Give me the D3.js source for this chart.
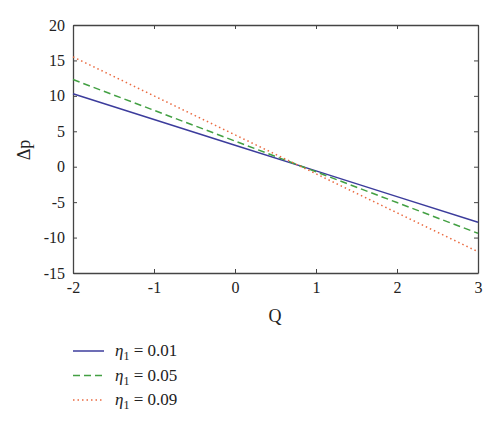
<!DOCTYPE html>
<meta charset="utf-8">
<html>
  <head>
    <style>
      body { margin: 0; background: #fff; }
      text { font-family: "Liberation Serif", "DejaVu Serif", serif; fill: #222; }
      .axis path, .axis line { stroke: #444; }
    </style>
    <script src="https://d3js.org/d3.v7.min.js"></script>
  </head>
  <body>
    <script>
      var width = 500, height = 428;

      // data
      var qValues = [-2, -1, 0, 1, 2, 3];
      var dp001 = [10.3, 6.67, 3.04, -0.59, -4.22, -7.85];
      var dp005 = [12.3, 7.96, 3.62, -0.72, -5.06, -9.4];
      var dp009 = [15.5, 10.0, 4.5, -1.0, -6.5, -12.0];
      var seriesLabels = ["0.01", "0.05", "0.09"];
      var xTicks = [-2, -1, 0, 1, 2, 3];
      var yTicks = [-15, -10, -5, 0, 5, 10, 15, 20];

      var colors = ["#3c3c9c", "#43a043", "#ea6a40"];
      var dashes = [null, "7,4", "1.5,3"];

      var mLeft = 73, mRight = 478, mTop = 25, mBottom = 273;
      var serif = "'Liberation Serif', 'DejaVu Serif', serif";

      var svg = d3.select("body").append("svg")
          .attr("width", width)
          .attr("height", height);

      var x = d3.scaleLinear().domain([-2, 3]).range([mLeft, mRight]);
      var y = d3.scaleLinear().domain([-15, 20]).range([mBottom, mTop]);

      var fmt = function(d) { return String(d); };

      // frame with inward ticks on all sides
      svg.append("g").attr("class", "axis")
          .attr("transform", "translate(0," + mBottom + ")")
          .call(d3.axisBottom(x).tickValues(xTicks).tickSizeInner(-4).tickSizeOuter(0).tickPadding(9).tickFormat(fmt));
      svg.append("g").attr("class", "axis")
          .attr("transform", "translate(0," + mTop + ")")
          .call(d3.axisTop(x).tickValues(xTicks).tickSizeInner(-4).tickSizeOuter(0).tickFormat(""));
      svg.append("g").attr("class", "axis")
          .attr("transform", "translate(" + mLeft + ",0)")
          .call(d3.axisLeft(y).tickValues(yTicks).tickSizeInner(-4).tickSizeOuter(0).tickPadding(8).tickFormat(fmt));
      svg.append("g").attr("class", "axis")
          .attr("transform", "translate(" + mRight + ",0)")
          .call(d3.axisRight(y).tickValues(yTicks).tickSizeInner(-4).tickSizeOuter(0).tickFormat(""));

      svg.selectAll(".axis").attr("font-family", serif).attr("font-size", 16);
      svg.selectAll(".axis path").attr("stroke-width", 1.3);

      var line = d3.line()
          .x(function(d, i) { return x(qValues[i]); })
          .y(function(d) { return y(d); });

      var allSeries = [dp001, dp005, dp009];

      svg.append("g").selectAll("path.series")
          .data(allSeries)
          .enter().append("path")
          .attr("class", "series")
          .attr("d", line)
          .attr("fill", "none")
          .attr("stroke", function(d, i) { return colors[i]; })
          .attr("stroke-width", 1.5)
          .attr("stroke-dasharray", function(d, i) { return dashes[i]; });

      // axis titles
      svg.append("text")
          .attr("transform", "translate(30,150) rotate(-90)")
          .attr("text-anchor", "middle")
          .attr("font-family", serif)
          .attr("font-size", 18)
          .text("Δp");
      svg.append("text")
          .attr("x", 275).attr("y", 322)
          .attr("text-anchor", "middle")
          .attr("font-family", serif)
          .attr("font-size", 18)
          .text("Q");

      // legend
      var legend = svg.append("g").selectAll("g")
          .data(seriesLabels)
          .enter().append("g")
          .attr("transform", function(d, i) { return "translate(73," + (351 + i * 24.5) + ")"; });

      legend.append("line")
          .attr("x1", 0).attr("x2", 31)
          .attr("stroke", function(d, i) { return colors[i]; })
          .attr("stroke-width", 1.5)
          .attr("stroke-dasharray", function(d, i) { return dashes[i]; });

      var lt = legend.append("text")
          .attr("x", 42).attr("y", 5)
          .attr("font-family", serif)
          .attr("font-size", 17);
      lt.append("tspan").attr("font-style", "italic").text("η");
      lt.append("tspan").attr("font-size", 12).attr("dy", 4).text("1");
      lt.append("tspan").attr("dy", -4).text(function(d) { return " = " + d; });
    </script>
  </body>
</html>
